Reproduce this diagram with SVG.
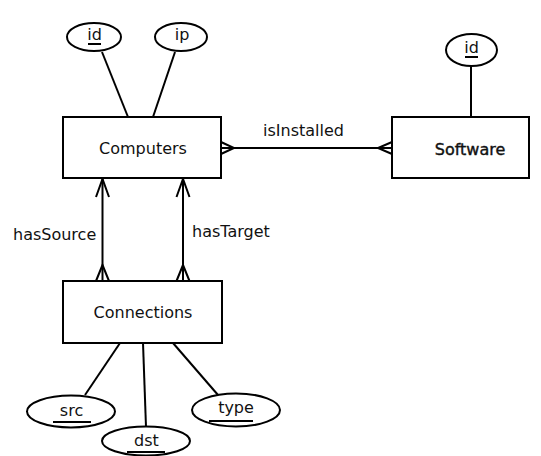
<svg xmlns="http://www.w3.org/2000/svg" width="541" height="456" viewBox="0 0 541 456">
<style>
.box{fill:#fff;stroke:#000;stroke-width:2}
.ell{fill:#fff;stroke:#000;stroke-width:2}
.ln{fill:none;stroke:#000;stroke-width:2}
.cf{fill:none;stroke:#000;stroke-width:2;stroke-linejoin:miter}
.t{font-family:"DejaVu Sans",sans-serif;font-size:16px;fill:#111;text-anchor:middle}
.lbl{font-family:"DejaVu Sans",sans-serif;font-size:16px;fill:#111}
.ul{stroke:#000;stroke-width:2}
</style>
<rect width="541" height="456" fill="#fff"/>
<g id="connectors">
<line class="ln" x1="102" y1="52" x2="128" y2="117"/>
<line class="ln" x1="175" y1="52" x2="153" y2="117"/>
<line class="ln" x1="471" y1="66" x2="471" y2="117"/>
<line class="ln" x1="120" y1="343" x2="85" y2="395"/>
<line class="ln" x1="143" y1="343" x2="146" y2="427"/>
<line class="ln" x1="173" y1="343" x2="218" y2="395"/>
<g id="isInstalled">
<line class="ln" x1="221" y1="148" x2="392" y2="148"/>
<path class="cf" d="M221,142 L234,148 L221,154"/>
<path class="cf" d="M392,142 L378,148 L392,154"/>
<text class="lbl" x="263" y="136">isInstalled</text>
</g>
<g id="hasSource">
<line class="ln" x1="102.5" y1="178" x2="102.5" y2="281"/>
<path class="cf" d="M96,197 L102.5,179 L109,197"/>
<path class="cf" d="M96,281 L102.5,265 L109,281"/>
<text class="lbl" x="13" y="240">hasSource</text>
</g>
<g id="hasTarget">
<line class="ln" x1="183" y1="178" x2="183" y2="281"/>
<path class="cf" d="M176.5,197 L183,179 L189.5,197"/>
<path class="cf" d="M176.5,281 L183,265 L189.5,281"/>
<text class="lbl" x="192" y="237">hasTarget</text>
</g>
</g>
<g id="Computers">
<rect class="box" x="63" y="117" width="158" height="61"/>
<text class="t" x="143" y="154">Computers</text>
</g>
<g id="Software">
<rect class="box" x="392" y="117" width="137" height="61"/>
<text class="t" x="470" y="155" stroke="#111" stroke-width="0.4">Software</text>
</g>
<g id="Connections">
<rect class="box" x="63" y="281" width="159" height="62"/>
<text class="t" x="143" y="318">Connections</text>
</g>
<g id="attr-computers-id">
<ellipse class="ell" cx="94" cy="37" rx="27" ry="14"/>
<text class="t" x="94.5" y="40">id</text>
<line class="ul" x1="88" y1="44" x2="101" y2="44"/>
</g>
<g id="attr-computers-ip">
<ellipse class="ell" cx="181" cy="37" rx="26" ry="14"/>
<text class="t" x="182" y="40">ip</text>
</g>
<g id="attr-software-id">
<ellipse class="ell" cx="471.5" cy="50" rx="25.5" ry="16"/>
<text class="t" x="471.5" y="53">id</text>
<line class="ul" x1="465" y1="57" x2="478" y2="57"/>
</g>
<g id="attr-src">
<ellipse class="ell" cx="71" cy="411.5" rx="44" ry="16"/>
<text class="t" x="71.5" y="416">src</text>
<line class="ul" x1="53" y1="422" x2="91" y2="422"/>
</g>
<g id="attr-dst">
<ellipse class="ell" cx="146" cy="441" rx="44" ry="14.5"/>
<text class="t" x="146.5" y="446">dst</text>
<line class="ul" x1="127" y1="452" x2="165" y2="452"/>
</g>
<g id="attr-type">
<ellipse class="ell" cx="236" cy="410" rx="44" ry="16.5"/>
<text class="t" x="236" y="413">type</text>
<line class="ul" x1="209" y1="421" x2="253" y2="421"/>
</g>
</svg>
